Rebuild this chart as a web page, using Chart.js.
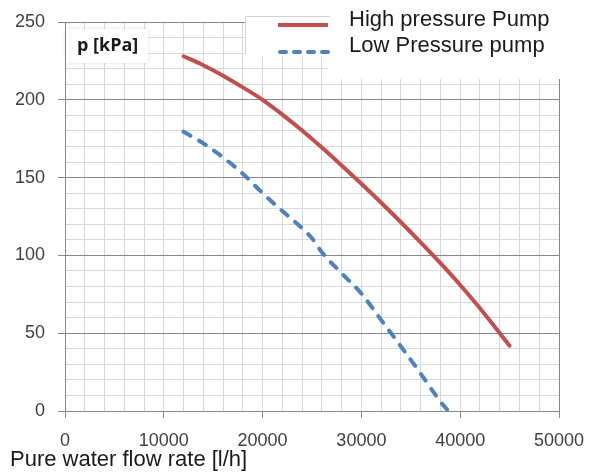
<!DOCTYPE html>
<html>
<head>
<meta charset="utf-8">
<script src="https://cdn.jsdelivr.net/npm/chart.js@4.4.1/dist/chart.umd.min.js"></script>
<style>
    body { margin: 0; background: #fff; }
    #wrap { width: 594px; height: 476px; position: relative; }
</style>
</head>
<body>
<div id="wrap"><canvas id="pumpChart"></canvas></div>
<script>
// Pump curves data
const flowHigh = [12000, 14000, 16000, 18000, 20000, 22000, 24000, 26000, 28000, 30000, 32000, 34000, 36000, 38000, 40000, 42000, 44000, 45000];
const pressureHigh = [228, 222.2, 215.5, 208, 200, 190.5, 180.3, 169.3, 157.8, 146, 133.8, 121.3, 108.3, 95, 81, 66, 50, 42];
const flowLow = [12000, 14000, 16000, 18000, 20000, 22000, 24000, 25000, 26000, 28000, 30000, 32000, 34000, 36000, 38000, 38800];
const pressureLow = [179.5, 172, 163, 152.5, 140, 128.5, 117.5, 111, 102, 88.5, 75.5, 58.5, 41.5, 24, 6, 0];
const seriesNames = ["High pressure Pump", "Low Pressure pump"];
const xTitle = "Pure water flow rate [l/h]";
const yTitle = "p [kPa]";

const RED = '#c0504d';
const BLUE = '#4f81bd';
const MAJOR = '#868686';
const MINOR = '#d9d9d9';
const FONT = '"Liberation Sans", Arial, sans-serif';

function toPoints(xs, ys) {
    return xs.map((x, i) => ({ x: x, y: ys[i] }));
}

// Overlay texts and legend, drawn like the pasted boxes in the original
const overlay = {
    id: 'overlay',
    beforeDatasetsDraw(chart) {
        const ctx = chart.ctx;
        ctx.save();
        // legend background
        ctx.fillStyle = '#fff';
        ctx.fillRect(245, 16, 349, 40);
        ctx.fillRect(328, 16, 266, 63);
        ctx.strokeStyle = '#d4d4d4';
        ctx.lineWidth = 1;
        ctx.beginPath();
        ctx.moveTo(245.5, 54);
        ctx.lineTo(245.5, 16.5);
        ctx.lineTo(330, 16.5);
        ctx.stroke();

        // y title box
        ctx.shadowColor = 'rgba(0,0,0,0.12)';
        ctx.shadowBlur = 4;
        ctx.fillRect(66, 29, 82, 34);
        ctx.shadowBlur = 0;
        ctx.shadowColor = 'transparent';
        ctx.fillStyle = '#1a1a1a';
        ctx.font = 'bold 18px "Open Sans", "Noto Sans", sans-serif';
        ctx.textBaseline = 'alphabetic';
        ctx.textAlign = 'left';
        ctx.fillText(yTitle, 77, 51);

        // legend lines
        ctx.lineWidth = 4;
        ctx.strokeStyle = RED;
        ctx.beginPath();
        ctx.moveTo(278, 25);
        ctx.lineTo(328, 25);
        ctx.stroke();
        ctx.strokeStyle = BLUE;
        ctx.lineCap = 'round';
        ctx.setLineDash([6, 8]);
        ctx.beginPath();
        ctx.moveTo(280, 52);
        ctx.lineTo(328, 52);
        ctx.stroke();
        ctx.setLineDash([]);

        // legend texts
        ctx.fillStyle = '#1a1a1a';
        ctx.font = '22px ' + FONT;
        ctx.fillText(seriesNames[0], 349, 26);
        ctx.fillText(seriesNames[1], 349, 52);

        // x title
        ctx.font = '22px ' + FONT;
        ctx.fillText(xTitle, 10, 466);
        ctx.restore();
    }
};

new Chart(document.getElementById('pumpChart'), {
    type: 'scatter',
    data: {
        datasets: [{
            label: seriesNames[0],
            data: toPoints(flowHigh, pressureHigh),
            showLine: true,
            borderColor: RED,
            borderWidth: 4,
            pointRadius: 0,
            cubicInterpolationMode: 'monotone',
            borderCapStyle: 'round'
        }, {
            label: seriesNames[1],
            data: toPoints(flowLow, pressureLow),
            showLine: true,
            borderColor: BLUE,
            borderWidth: 4,
            borderDash: [8, 10],
            borderCapStyle: 'round',
            pointRadius: 0,
            cubicInterpolationMode: 'monotone'
        }]
    },
    options: {
        responsive: true,
        maintainAspectRatio: false,
        animation: false,
        layout: { padding: { top: 22, right: 35, left: 0, bottom: 0 } },
        plugins: {
            legend: { display: false },
            tooltip: { enabled: false }
        },
        scales: {
            x: {
                type: 'linear',
                min: 0,
                max: 50000,
                afterFit: (scale) => {
                    scale.height = 65;
                    scale.paddingLeft = 0;
                    scale.paddingRight = 0;
                },
                ticks: {
                    stepSize: 2000,
                    autoSkip: false,
                    maxRotation: 0,
                    padding: 12,
                    color: '#404040',
                    font: { family: FONT, size: 18 },
                    callback: (v) => (v % 10000 === 0 ? String(v) : '')
                },
                grid: {
                    color: (c) => (c.tick && c.tick.value === 50000 ? MAJOR : MINOR),
                    tickColor: (c) => (c.tick && c.tick.value % 10000 === 0 ? MAJOR : 'transparent'),
                    tickLength: 7,
                    lineWidth: 1
                },
                border: { color: MAJOR, width: 1 }
            },
            y: {
                min: 0,
                max: 250,
                afterFit: (scale) => {
                    scale.width = 65;
                    scale.paddingTop = 0;
                    scale.paddingBottom = 0;
                },
                ticks: {
                    stepSize: 10,
                    autoSkip: false,
                    padding: 13,
                    color: '#404040',
                    font: { family: FONT, size: 18 },
                    callback: (v) => (v % 50 === 0 ? String(v) : '')
                },
                grid: {
                    color: (c) => (c.tick && c.tick.value % 50 === 0 ? MAJOR : MINOR),
                    tickColor: (c) => (c.tick && c.tick.value % 50 === 0 ? MAJOR : 'transparent'),
                    tickLength: 7,
                    lineWidth: 1
                },
                border: { color: MAJOR, width: 1 }
            }
        }
    },
    plugins: [overlay]
});
</script>
</body>
</html>
